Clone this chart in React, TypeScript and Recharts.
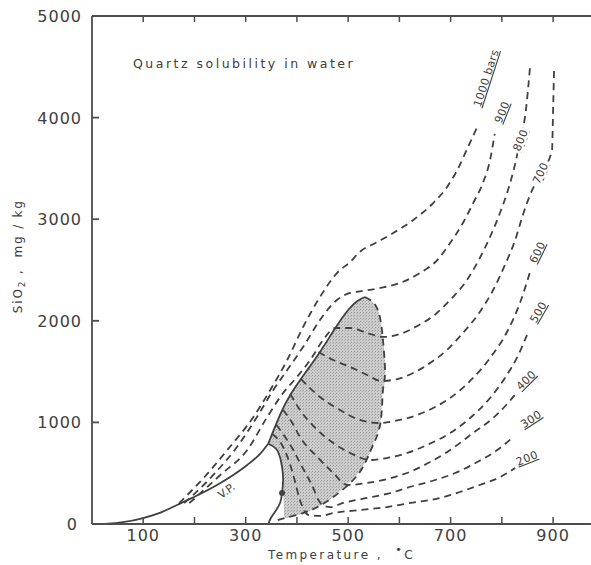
import React from 'react';
import { ComposedChart, Line, Area, XAxis, YAxis, ReferenceDot } from 'recharts';

// [temperature °C, SiO2 mg/kg]
const vaporCurve = [
  [26, 0], [60, 18], [100, 59], [135, 115], [166, 187], [205, 280], [244, 384], [275, 480], [303, 581], [328, 690], [344, 790],
];
const vaporPocket = [[344, 790], [362, 720], [371, 561], [373, 433], [371, 305], [367, 207], [357, 118], [348, 49], [345, 5]];
const fieldEdge = [[344, 790], [367, 1073], [387, 1270], [416, 1486], [445, 1693], [475, 1929], [500, 2106], [518, 2195], [533, 2234]];
const fieldLimit = [
  [533, 2234], [553, 2156], [563, 2008], [568, 1811], [572, 1486], [568, 1319], [563, 994], [547, 758],
  [529, 561], [504, 404], [471, 266], [440, 167], [412, 108], [377, 59], [360, 35],
];
// [temperature, low, high] of the shaded two-phase field
const fieldBand = [
  [344, 790, 790], [355, 755, 930], [363, 715, 1030], [368, 640, 1085], [373, 433, 1130], [375, 80, 1150],
  [377, 59, 1165], [390, 72, 1290], [412, 105, 1450], [440, 165, 1660], [471, 266, 1900], [500, 400, 2106],
  [518, 490, 2195], [533, 605, 2234], [547, 758, 2185], [553, 850, 2156], [563, 994, 2008], [568, 1319, 1811],
  [572, 1420, 1600], [573, 1510, 1515],
];

const bar1000 = [
  [170, 205], [221, 470], [264, 728], [315, 1053], [348, 1319], [381, 1614], [412, 1939], [445, 2234], [478, 2470],
  [504, 2580], [523, 2680], [555, 2770], [588, 2864], [627, 2992], [666, 3159], [693, 3317], [713, 3484], [734, 3711], [752, 3908],
];
const bar900 = [
  [180, 205], [240, 500], [283, 758], [322, 1053], [354, 1319], [381, 1516], [412, 1742], [445, 2008], [478, 2205],
  [504, 2274], [523, 2290], [563, 2323], [601, 2372], [640, 2470], [674, 2598], [699, 2766], [724, 2963], [744, 3159],
  [763, 3356], [777, 3583], [786, 3840],
];
const bar800 = [
  [190, 205], [250, 480], [303, 728], [342, 1053], [373, 1289], [400, 1447], [426, 1614], [451, 1811], [475, 1929],
  [504, 1929], [537, 1880], [568, 1841], [601, 1870], [635, 1949], [666, 2047], [699, 2205], [732, 2402], [757, 2618],
  [777, 2825], [797, 3071], [812, 3287], [824, 3504], [836, 3780], [847, 4075], [851, 4272], [855, 4498],
];
const bar700 = [
  [442, 1693], [471, 1614], [504, 1545], [537, 1467], [564, 1408], [596, 1427], [627, 1486], [660, 1585], [693, 1713],
  [724, 1880], [757, 2087], [783, 2303], [806, 2549], [826, 2795], [841, 3041], [855, 3238], [876, 3450], [898, 3681],
  [900, 4075], [902, 4488],
];
const bar600 = [
  [408, 1427], [445, 1250], [484, 1122], [523, 1024], [559, 994], [601, 1024], [635, 1073], [666, 1142], [699, 1240],
  [738, 1408], [777, 1634], [810, 1890], [836, 2185], [855, 2480],
];
const bar500 = [
  [387, 1280], [406, 1122], [440, 925], [471, 797], [504, 699], [543, 630], [576, 650], [615, 699], [654, 778],
  [699, 896], [738, 1043], [777, 1240], [806, 1437], [832, 1663], [849, 1860],
];
const bar400 = [
  [373, 1122], [391, 994], [406, 856], [440, 659], [471, 502], [498, 384], [537, 404], [576, 443], [615, 502],
  [660, 610], [699, 728], [744, 896], [783, 1043], [812, 1191], [830, 1299],
];
const bar300 = [
  [360, 974], [377, 856], [393, 728], [406, 600], [420, 472], [432, 354], [442, 236], [450, 187], [465, 167],
  [490, 207], [537, 256], [582, 305], [627, 374], [670, 433], [709, 502], [752, 610], [791, 728], [822, 856],
];
const bar200 = [
  [352, 886], [373, 758], [387, 581], [397, 404], [404, 266], [412, 157], [422, 89], [445, 79], [471, 108],
  [523, 138], [576, 167], [621, 207], [680, 256], [718, 315], [757, 384], [797, 463], [826, 551],
];

const isobarNames = ['1000 bars', '900', '800', '700', '600', '500', '400', '300', '200'];
const isobarTagAt = [[769, 4390], [800, 4055], [836, 3780], [875, 3455], [869, 2677], [871, 2087], [847, 1417], [857, 1033], [849, 650]];
const vaporTagAt = [262, 330];
const criticalDot = [371, 305];

const tempTicks = [100, 200, 300, 400, 500, 600, 700, 800, 900];
const tempLabels = [100, 300, 500, 700, 900];
const solTicks = [0, 1000, 2000, 3000, 4000, 5000];

const INK = '#404040';
const AXIS = '#4d4d4d';
const FONT = '"DejaVu Sans", sans-serif';
const tagAngles = [-72, -68, -68, -65, -64, -60, -45, -33, -22];
const maskedTags = ['800', '700'];

const toPts = (rows: number[][]) => rows.map(([t, s]) => ({ t, s }));

const SolTick = ({ x, y, payload }: any) => (
  <g>
    {payload.value > 0 && payload.value < 5000 && (
      <line x1={x + 9} y1={y} x2={x + 16} y2={y} stroke={AXIS} strokeWidth={1.8} />
    )}
    <text x={payload.value === 0 ? x - 5 : x - 1} y={y} dy={6} textAnchor="end" fontSize={16} letterSpacing={1} fill={INK} fontFamily={FONT}>
      {payload.value}
    </text>
  </g>
);

const BottomTick = ({ x, y, payload }: any) => (
  <g>
    <line x1={x} y1={y - 1} x2={x} y2={y - 7} stroke={AXIS} strokeWidth={1.5} />
    {tempLabels.includes(payload.value) && (
      <text x={x} y={y + 17} textAnchor="middle" fontSize={16} letterSpacing={1} fill={INK} fontFamily={FONT}>
        {payload.value}
      </text>
    )}
  </g>
);

const TopTick = ({ x, y }: any) => <line x1={x} y1={y + 1} x2={x} y2={y + 6} stroke={AXIS} strokeWidth={1.5} />;

const curve = (key: string, rows: number[][], dashed: boolean, type: any = 'monotone', axisId: any = 0) => (
  <Line
    key={key}
    data={toPts(rows)}
    dataKey="s"
    type={type}
    xAxisId={axisId}
    stroke={INK}
    strokeWidth={1.8}
    strokeDasharray={dashed ? '7 5' : undefined}
    dot={false}
    activeDot={false}
    isAnimationActive={false}
    legendType="none"
  />
);

export default function App() {
  const band = fieldBand.map(([t, lo, hi]) => ({ t, range: [lo, hi] }));
  const isobars = [bar1000, bar900, bar800, bar700, bar600, bar500, bar400, bar300, bar200];

  return (
    <div style={{ position: 'absolute', left: 0, top: 0, width: 591, height: 565, background: '#fff', overflow: 'hidden' }}>
      <ComposedChart width={591} height={565} margin={{ top: 0, right: 0, bottom: 0, left: 0 }}>
        <defs>
          <pattern id="stipple" width="3" height="3" patternUnits="userSpaceOnUse">
            <rect width="3" height="3" fill="#cdcdcd" />
            <rect x="0" y="0" width="1" height="1" fill="#979797" />
            <rect x="2" y="1" width="1" height="1" fill="#adadad" />
          </pattern>
        </defs>
        <XAxis
          xAxisId="top"
          orientation="top"
          type="number"
          dataKey="t"
          domain={[0, 974]}
          allowDataOverflow
          ticks={tempTicks}
          interval={0}
          height={16}
          tickSize={0}
          tickMargin={0}
          tick={TopTick}
          axisLine={{ stroke: AXIS, strokeWidth: 1.8 }}
        />
        <XAxis
          type="number"
          dataKey="t"
          domain={[0, 974]}
          allowDataOverflow
          ticks={tempTicks}
          interval={0}
          height={41}
          tickSize={0}
          tickMargin={0}
          tick={BottomTick}
          axisLine={{ stroke: AXIS, strokeWidth: 1.8 }}
        />
        <YAxis
          type="number"
          domain={[0, 5000]}
          ticks={solTicks}
          interval={0}
          width={92}
          tickSize={0}
          tickMargin={9}
          tick={SolTick}
          axisLine={{ stroke: AXIS, strokeWidth: 1.8 }}
        />
        <Area
          data={band}
          dataKey="range"
          type="monotone"
          stroke="none"
          fill="url(#stipple)"
          fillOpacity={1}
          isAnimationActive={false}
          legendType="none"
          activeDot={false}
        />
        {curve('vp', vaporCurve, false, 'monotone', 'top')}
        {curve('pocket', vaporPocket, false, 'natural')}
        {curve('edge', fieldEdge, false, 'natural')}
        {curve('limit', fieldLimit, true, 'natural')}
        {isobars.map((rows, i) => curve(`iso${i}`, rows, true))}
        <ReferenceDot x={criticalDot[0]} y={criticalDot[1]} r={3} fill={INK} stroke="none" />
        {isobarNames.map((name, i) => (
          <ReferenceDot
            key={name}
            x={isobarTagAt[i][0]}
            y={isobarTagAt[i][1]}
            r={1}
            shape={(p: any) => (
              <text
                x={p.cx}
                y={p.cy}
                dy={4}
                textAnchor="middle"
                fontSize={11}
                letterSpacing={0.5}
                fontFamily={FONT}
                fill={INK}
                textDecoration="underline"
                stroke={maskedTags.includes(name) ? '#fff' : 'none'}
                strokeWidth={5}
                paintOrder="stroke"
                transform={`rotate(${tagAngles[i]} ${p.cx} ${p.cy})`}
              >
                {name}
              </text>
            )}
          />
        ))}
        <ReferenceDot
          x={vaporTagAt[0]}
          y={vaporTagAt[1]}
          r={1}
          shape={(p: any) => (
            <text x={p.cx} y={p.cy} dy={4} textAnchor="middle" fontSize={11} fontFamily={FONT} fill={INK}
              transform={`rotate(-35 ${p.cx} ${p.cy})`}>
              V.P.
            </text>
          )}
        />
      </ComposedChart>

      <div style={{ position: 'absolute', left: 133, top: 57, fontFamily: FONT, fontSize: 12.5, lineHeight: '14px', letterSpacing: 2.5, color: INK, whiteSpace: 'nowrap' }}>
        Quartz solubility in water
      </div>
      <div style={{ position: 'absolute', left: 268, top: 543, fontFamily: FONT, fontSize: 12, lineHeight: '14px', letterSpacing: 2.4, color: INK, whiteSpace: 'nowrap' }}>
        Temperature ,&nbsp;&nbsp;<sup style={{ fontSize: 11, verticalAlign: '6px' }}>•</sup>C
      </div>
      <div
        style={{
          position: 'absolute', left: -80, top: 246, width: 200, textAlign: 'center', transform: 'rotate(-90deg)',
          fontFamily: FONT, fontSize: 12, lineHeight: '16px', letterSpacing: 1.8, color: INK, whiteSpace: 'nowrap',
        }}
      >
        SiO<sub style={{ fontSize: 9 }}>2</sub> ,&nbsp; mg / kg
      </div>
    </div>
  );
}
